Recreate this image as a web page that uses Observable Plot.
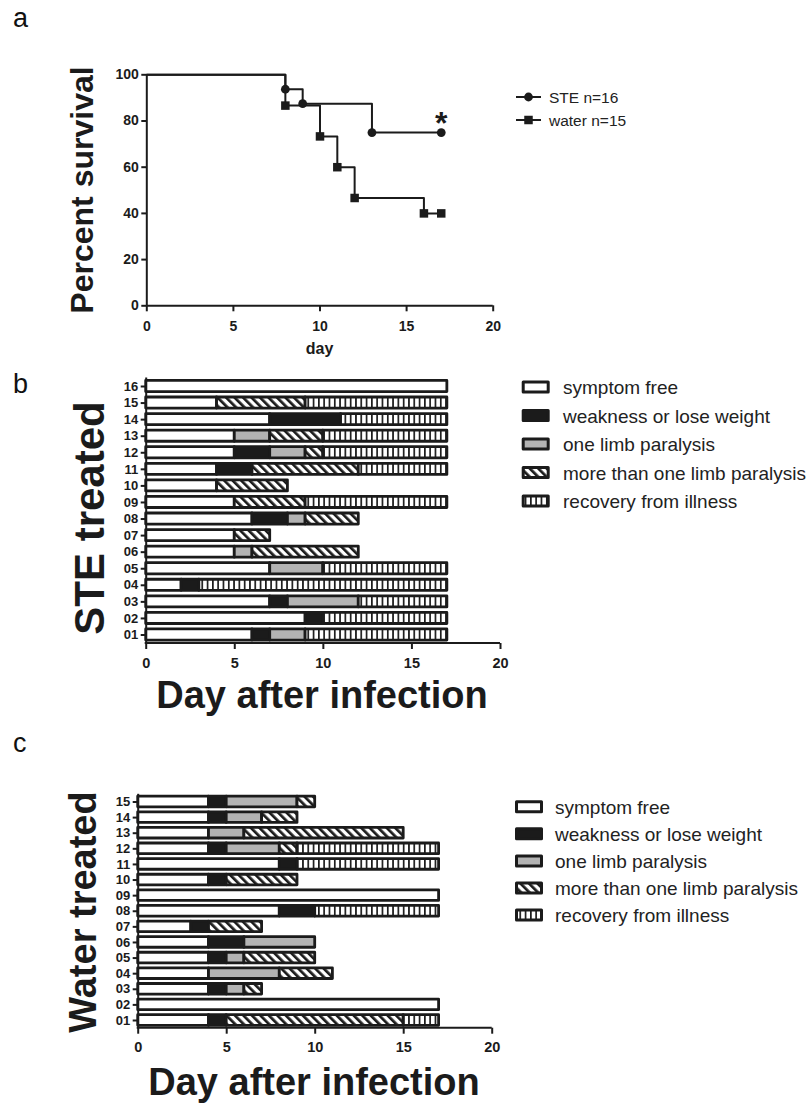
<!DOCTYPE html>
<html><head><meta charset="utf-8">
<script src="https://cdn.jsdelivr.net/npm/d3@7"></script>
<script src="https://cdn.jsdelivr.net/npm/@observablehq/plot@0.6"></script>
<style>
html,body{margin:0;padding:0;background:#fff;}
#page{position:relative;width:811px;height:1105px;overflow:hidden;background:#fff;}
#page svg{position:absolute;left:0;}
</style></head><body><div id="page"></div>
<script>
// ---------- data ----------
const steDays = [0, 8, 9, 13, 17];
const steSurvival = [100, 93.75, 87.5, 75, 75];
const waterDays = [0, 8, 10, 11, 12, 16, 17];
const waterSurvival = [100, 86.67, 73.33, 60, 46.67, 40, 40];
const survivalTicksX = [0, 5, 10, 15, 20];
const survivalTicksY = [0, 20, 40, 60, 80, 100];
const survivalLegend = ["STE n=16", "water n=15"];

const stageNames = ["symptom free", "weakness or lose weight", "one limb paralysis",
  "more than one limb paralysis", "recovery from illness"];
const dayTicks = [0, 5, 10, 15, 20];

// [start day, end day, stage index] per mouse
const steMice = ["01","02","03","04","05","06","07","08","09","10","11","12","13","14","15","16"];
const steStages = [
  [[0,6,0],[6,7,1],[7,9,2],[9,17,4]],
  [[0,9,0],[9,10,1],[10,17,4]],
  [[0,7,0],[7,8,1],[8,12,2],[12,17,4]],
  [[0,2,0],[2,3,1],[3,17,4]],
  [[0,7,0],[7,10,2],[10,17,4]],
  [[0,5,0],[5,6,2],[6,12,3]],
  [[0,5,0],[5,7,3]],
  [[0,6,0],[6,8,1],[8,9,2],[9,12,3]],
  [[0,5,0],[5,9,3],[9,17,4]],
  [[0,4,0],[4,8,3]],
  [[0,4,0],[4,6,1],[6,12,3],[12,17,4]],
  [[0,5,0],[5,7,1],[7,9,2],[9,10,3],[10,17,4]],
  [[0,5,0],[5,7,2],[7,10,3],[10,17,4]],
  [[0,7,0],[7,11,1],[11,17,4]],
  [[0,4,0],[4,9,3],[9,17,4]],
  [[0,17,0]]
];
const waterMice = ["01","02","03","04","05","06","07","08","09","10","11","12","13","14","15"];
const waterStages = [
  [[0,4,0],[4,5,1],[5,15,3],[15,17,4]],
  [[0,17,0]],
  [[0,4,0],[4,5,1],[5,6,2],[6,7,3]],
  [[0,4,0],[4,8,2],[8,11,3]],
  [[0,4,0],[4,5,1],[5,6,2],[6,10,3]],
  [[0,4,0],[4,6,1],[6,10,2]],
  [[0,3,0],[3,4,1],[4,7,3]],
  [[0,8,0],[8,10,1],[10,17,4]],
  [[0,17,0]],
  [[0,4,0],[4,5,1],[5,9,3]],
  [[0,8,0],[8,9,1],[9,17,4]],
  [[0,4,0],[4,5,1],[5,8,2],[8,9,3],[9,17,4]],
  [[0,4,0],[4,6,2],[6,15,3]],
  [[0,4,0],[4,5,1],[5,7,2],[7,9,3]],
  [[0,4,0],[4,5,1],[5,9,2],[9,10,3]]
];

// ---------- style ----------
const INK = "#1b1b1b";
const FONT = '"Liberation Sans", Arial, Helvetica, sans-serif';
const stageFill = ["#ffffff", INK, "#b3b3b3", "url(#hatch)", "url(#vstripe)"];
const page = d3.select("#page");

const overlay = page.append("svg").attr("width", 811).attr("height", 1105)
  .style("top", "0px").style("z-index", 2).style("pointer-events", "none")
  .style("font-family", FONT);
const defs = overlay.append("defs");
const hatch = defs.append("pattern").attr("id", "hatch").attr("patternUnits", "userSpaceOnUse")
  .attr("width", 6).attr("height", 6).attr("patternTransform", "rotate(-45)");
hatch.append("rect").attr("width", 6).attr("height", 6).attr("fill", "#fff");
hatch.append("rect").attr("width", 2.7).attr("height", 6).attr("fill", INK);
const vstripe = defs.append("pattern").attr("id", "vstripe").attr("patternUnits", "userSpaceOnUse")
  .attr("width", 5.3).attr("height", 10);
vstripe.append("rect").attr("width", 5.3).attr("height", 10).attr("fill", "#fff");
vstripe.append("rect").attr("width", 1.7).attr("height", 10).attr("fill", INK);

function place(svg, top) {
  svg.style.top = top + "px";
  page.node().appendChild(svg);
}

// ---------- panel a ----------
const steTable = steDays.map((d, i) => ({day: d, pct: steSurvival[i]}));
const waterTable = waterDays.map((d, i) => ({day: d, pct: waterSurvival[i]}));
const A = {top: 0, h: 360, x0: 146.3, x1: 492.7, y0: 74.3, y1: 305.3};
const survPlot = Plot.plot({
  width: 811, height: A.h,
  marginLeft: A.x0, marginRight: 811 - A.x1, marginTop: A.y0 - A.top, marginBottom: A.top + A.h - A.y1,
  x: {domain: [0, 20]},
  y: {domain: [0, 100]},
  style: {fontFamily: FONT, color: INK, background: "transparent", overflow: "visible"},
  marks: [
    Plot.axisX({ticks: survivalTicksX, tickSize: 6, tickPadding: 9, fontSize: 14, fontWeight: "bold", label: null, strokeWidth: 2}),
    Plot.axisY({ticks: survivalTicksY, tickSize: 5, tickPadding: 3, fontSize: 14, fontWeight: "bold", label: null, strokeWidth: 2}),
    Plot.ruleX([0], {strokeWidth: 2}),
    Plot.ruleY([0], {strokeWidth: 2}),
    Plot.line(steTable, {x: "day", y: "pct", curve: "step-after", strokeWidth: 2, stroke: INK}),
    Plot.line(waterTable, {x: "day", y: "pct", curve: "step-after", strokeWidth: 2, stroke: INK}),
    Plot.dot(steTable.slice(1), {x: "day", y: "pct", r: 4.4, fill: INK, symbol: "circle"}),
    Plot.dot(waterTable.slice(1), {x: "day", y: "pct", r: 4.8, fill: INK, symbol: "square"}),
    Plot.text(steTable.slice(-1), {x: "day", y: "pct", text: () => "*", fontSize: 32, fontWeight: "bold", lineAnchor: "middle", dy: -9, fill: INK})
  ]
});
place(survPlot, A.top);

// ---------- gantt panels ----------
function gantt({mice, stages, top, h, x0, x20, rowTop, rowBottom, axisBottom, pad, strokeW}) {
  const n = mice.length;
  const step = (rowBottom - rowTop) / (n - 1);
  const outer = (axisBottom - rowBottom) / step - (1 - pad) / 2;
  const frameTop = rowTop - step * (outer + (1 - pad) / 2);
  const data = mice.flatMap((m, i) => stages[i].map(([a, b, s]) => ({mouse: m, start: a, end: b, stage: s})));
  const chart = Plot.plot({
    width: 811, height: h,
    marginLeft: x0, marginRight: 811 - x20, marginTop: frameTop - top, marginBottom: top + h - axisBottom,
    x: {domain: [0, 20]},
    y: {type: "band", domain: mice.slice().reverse(), paddingInner: pad, paddingOuter: outer, align: 0.5, round: false},
    style: {fontFamily: FONT, color: INK, background: "transparent", overflow: "visible"},
    marks: [
      ...stageFill.map((f, k) => Plot.barX(data.filter(d => d.stage === k), {
        x1: "start", x2: "end", y: "mouse", fill: f, stroke: INK, strokeWidth: strokeW, strokeLinejoin: "round"
      })),
      Plot.ruleX([0], {strokeWidth: 2, stroke: INK}),
      Plot.axisX({ticks: dayTicks, tickSize: 6, tickPadding: 8, fontSize: 14.5, fontWeight: "bold", label: null, strokeWidth: 2}),
      Plot.axisY({tickSize: 5, tickPadding: 3, fontSize: 13, fontWeight: "bold", label: null, strokeWidth: 2})
    ]
  });
  const xs = chart.scale("x").range;
  d3.select(chart).append("line")
    .attr("x1", xs[0] - 1).attr("x2", xs[1]).attr("y1", axisBottom - top).attr("y2", axisBottom - top)
    .attr("stroke", INK).attr("stroke-width", 2);
  place(chart, top);
}

gantt({mice: steMice, stages: steStages, top: 360, h: 380, x0: 145.7, x20: 500,
  rowTop: 386, rowBottom: 634.5, axisBottom: 643, pad: 0.33, strokeW: 2.8});
gantt({mice: waterMice, stages: waterStages, top: 740, h: 365, x0: 137.7, x20: 491.7,
  rowTop: 801.5, rowBottom: 1020, axisBottom: 1027.7, pad: 0.32, strokeW: 2.8});

// ---------- free text ----------
function txt(x, y, s, size, weight, anchor = "start", rot = 0, fill = INK) {
  overlay.append("text").attr("transform", `translate(${x},${y}) rotate(${rot})`)
    .attr("text-anchor", anchor).attr("font-size", size).attr("font-weight", weight)
    .attr("fill", fill).text(s);
}
txt(13, 27, "a", 27, "normal", "start", 0, "#111");
txt(13, 393, "b", 27, "normal", "start", 0, "#111");
txt(13, 752, "c", 27, "normal", "start", 0, "#111");
txt(93, 190, "Percent survival", 32, "bold", "middle", -90);
txt(319.5, 354, "day", 16, "bold", "middle");
txt(104, 518, "STE treated", 42, "bold", "middle", -90);
txt(322, 708, "Day after infection", 38, "bold", "middle");
txt(96, 912, "Water treated", 38, "bold", "middle", -90);
txt(314, 1095, "Day after infection", 38, "bold", "middle");

// legend a
const symGen = [d3.symbol(d3.symbolCircle, Math.PI * 4.4 * 4.4), d3.symbol(d3.symbolSquare, Math.PI * 4.8 * 4.8)];
survivalLegend.forEach((s, i) => {
  const y = 97 + i * 23;
  overlay.append("line").attr("x1", 516).attr("x2", 541).attr("y1", y).attr("y2", y)
    .attr("stroke", INK).attr("stroke-width", 2);
  overlay.append("path").attr("d", symGen[i]()).attr("transform", `translate(528.5,${y})`).attr("fill", INK);
  txt(549, y + 5.5, s, 15.5, "normal", "start", 0, "#222");
});

// stage legends
function stageLegend(bx, tx, y0, gap) {
  stageNames.forEach((s, k) => {
    const y = y0 + k * gap;
    overlay.append("rect").attr("x", bx).attr("y", y - 5).attr("width", 25).attr("height", 10)
      .attr("fill", stageFill[k]).attr("stroke", INK).attr("stroke-width", 3).attr("stroke-linejoin", "round");
    txt(tx, y + 7, s, 19, "normal", "start", 0, "#222");
  });
}
stageLegend(523.2, 563, 387, 28.5);
stageLegend(516.5, 555, 806.7, 27.1);
</script></body></html>
